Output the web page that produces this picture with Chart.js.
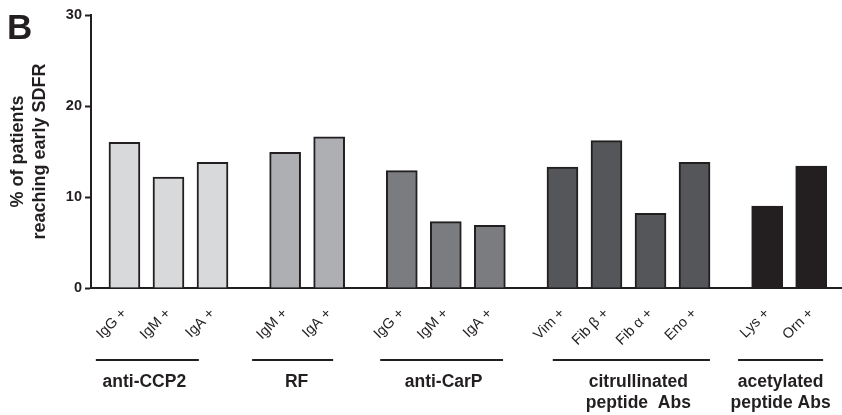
<!DOCTYPE html>
<html>
<head>
<meta charset="utf-8">
<script src="https://cdn.jsdelivr.net/npm/chart.js@4/dist/chart.umd.min.js"></script>
<style>
  html, body { margin: 0; padding: 0; background: #ffffff; }
  #wrap { width: 842px; height: 415px; position: relative; }
</style>
</head>
<body>
<div id="wrap"><canvas id="c" width="842" height="415"></canvas></div>
<script>
// Antibody categories, grouped by antibody family
const groupNames = [
  ['anti-CCP2'],
  ['RF'],
  ['anti-CarP'],
  ['citrullinated', 'peptide  Abs'],
  ['acetylated', 'peptide Abs']
];
const groupLabels = [
  ['IgG +', 'IgM +', 'IgA +'],
  ['IgM +', 'IgA +'],
  ['IgG +', 'IgM +', 'IgA +'],
  ['Vim +', 'Fib \u03B2 +', 'Fib \u03B1 +', 'Eno +'],
  ['Lys +', 'Orn +']
];
// % of patients reaching early SDFR
const groupValues = [
  [16.0, 12.2, 13.8],
  [14.9, 16.6],
  [12.9, 7.3, 6.9],
  [13.3, 16.2, 8.2, 13.8],
  [9.0, 13.4]
];
const groupColors = ['#d8d9db', '#aeafb3', '#7b7c80', '#545659', '#231f20'];
const yTicks = [0, 10, 20, 30];

// layout: extra space between groups (in bar slots), underline spans
// (x-axis units) and horizontal nudges of the group names (px)
const GROUP_GAP = 0.65;
const underlineSpans = [[-0.65, 1.69], [2.9, 4.74], [5.81, 8.6], [9.73, 13.3], [13.94, 15.87]];
const nameShift = [-3, 4, 2, 7, 0];

const INK = '#231f20';
const FONT = '"Liberation Sans", Arial, Helvetica, sans-serif';

// build bar positions along a linear x axis
const points = [], labels = [], fills = [], positions = [];
let slot = 0;
groupValues.forEach((vals, g) => {
  vals.forEach((v, i) => {
    const x = slot + g * GROUP_GAP;
    points.push({ x: x, y: v });
    positions.push(x);
    labels.push(groupLabels[g][i]);
    fills.push(groupColors[g]);
    slot++;
  });
});

const groupDecor = {
  id: 'groupDecor',
  afterDraw(chart) {
    const ctx = chart.ctx;
    const xs = chart.scales.x;
    ctx.save();
    // panel letter
    ctx.fillStyle = INK;
    ctx.font = 'bold 35px ' + FONT;
    ctx.textAlign = 'left';
    ctx.textBaseline = 'alphabetic';
    ctx.fillText('B', 7, 39);
    // group underlines and names
    ctx.strokeStyle = INK;
    ctx.lineWidth = 2;
    ctx.font = 'bold 17.5px ' + FONT;
    ctx.textAlign = 'center';
    ctx.textBaseline = 'middle';
    underlineSpans.forEach((s, g) => {
      const x0 = xs.getPixelForValue(s[0]);
      const x1 = xs.getPixelForValue(s[1]);
      ctx.beginPath();
      ctx.moveTo(x0, 360);
      ctx.lineTo(x1, 360);
      ctx.stroke();
      const cx = (x0 + x1) / 2 + nameShift[g];
      groupNames[g].forEach((t, k) => ctx.fillText(t, cx, 382 + k * 21.5));
    });
    ctx.restore();
  }
};

new Chart(document.getElementById('c'), {
  type: 'bar',
  data: {
    datasets: [{
      data: points,
      backgroundColor: fills,
      borderColor: INK,
      borderWidth: 2,
      borderSkipped: 'bottom',
      barThickness: 31
    }]
  },
  options: {
    responsive: false,
    animation: false,
    devicePixelRatio: 1,
    layout: { padding: { top: 15, left: 0, right: 0, bottom: 0 } },
    plugins: { legend: { display: false }, tooltip: { enabled: false } },
    scales: {
      x: {
        type: 'linear',
        offset: false,
        min: -0.76,
        max: 16.3,
        grid: { display: false, offset: false },
        border: { display: true, color: INK, width: 2 },
        afterBuildTicks(scale) { scale.ticks = positions.map(v => ({ value: v })); },
        afterFit(scale) { scale.height = 127; },
        ticks: {
          autoSkip: false,
          minRotation: 45,
          maxRotation: 45,
          padding: 9,
          color: INK,
          font: { family: FONT, size: 14.5 },
          callback: (value, index) => labels[index]
        }
      },
      y: {
        min: 0,
        max: 30,
        afterBuildTicks(scale) { scale.ticks = yTicks.map(v => ({ value: v })); },
        afterFit(scale) { scale.width = 91; },
        grid: { drawOnChartArea: false, drawTicks: true, tickLength: 6, tickWidth: 2, tickColor: INK },
        border: { display: true, color: INK, width: 2 },
        ticks: {
          padding: 3,
          color: INK,
          font: { family: FONT, size: 14.5, weight: 'bold' }
        },
        title: {
          display: true,
          text: ['% of patients', 'reaching early SDFR'],
          color: INK,
          font: { family: FONT, size: 18, weight: 'bold', lineHeight: 1.17 },
          padding: { top: 8, bottom: 0 }
        }
      }
    }
  },
  plugins: [groupDecor]
});
</script>
</body>
</html>
